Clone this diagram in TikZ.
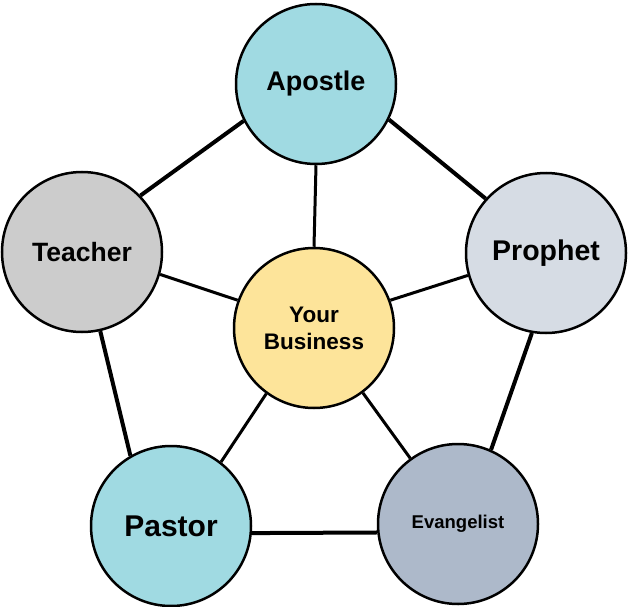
\documentclass[tikz,border=0pt]{standalone}
\usepackage{fontspec}
\setmainfont{Liberation Sans}
\definecolor{cyanfill}{HTML}{A0DAE2}
\definecolor{grayfill}{HTML}{CCCCCC}
\definecolor{prophfill}{HTML}{D6DCE4}
\definecolor{bizfill}{HTML}{FDE49A}
\definecolor{evanfill}{HTML}{ADB9CA}
\begin{document}
\begin{tikzpicture}[x=1pt,y=-1pt,
  role/.style={circle,draw=black,line width=2.5pt,minimum size=160pt,inner sep=0pt,align=center,font=\bfseries},
  outer/.style={line width=4pt},
  spoke/.style={line width=3pt}]
\useasboundingbox (0,0) rectangle (629,607);
\node[role,fill=cyanfill,font=\bfseries\fontsize{27}{32}\selectfont] (apostle) at (316,84) {Apostle};
\node[role,fill=grayfill,font=\bfseries\fontsize{26.5}{32}\selectfont] (teacher) at (82,252) {Teacher};
\node[role,fill=prophfill,font=\bfseries\fontsize{28.5}{32}\selectfont] (prophet) at (546,253) {Prophet};
\node[role,fill=bizfill,font=\bfseries\fontsize{22.5}{27}\selectfont] (biz) at (314,328) {Your\\Business};
\node[role,fill=cyanfill,font=\bfseries\fontsize{30}{34}\selectfont] (pastor) at (171,526) {Pastor};
\node[role,fill=evanfill,font=\bfseries\fontsize{18.5}{22}\selectfont] (evan) at (458,524) {Evangelist};
\draw[outer] (apostle.-26) -- (prophet.138);
\draw[outer] (apostle.-153) -- (teacher.44);
\draw[outer] (teacher.-77) -- (pastor.120);
\draw[outer] (prophet.-100) -- (evan.66);
\draw[outer] (pastor.-5) -- (evan.-174);
\draw[spoke] (apostle.south) -- (biz.north);
\draw[spoke] (teacher.-16) -- (biz.160);
\draw[spoke] (prophet.196) -- (biz.20);
\draw[spoke] (pastor.52) -- (biz.-126);
\draw[spoke] (evan.126) -- (biz.-53);
\end{tikzpicture}
\end{document}
